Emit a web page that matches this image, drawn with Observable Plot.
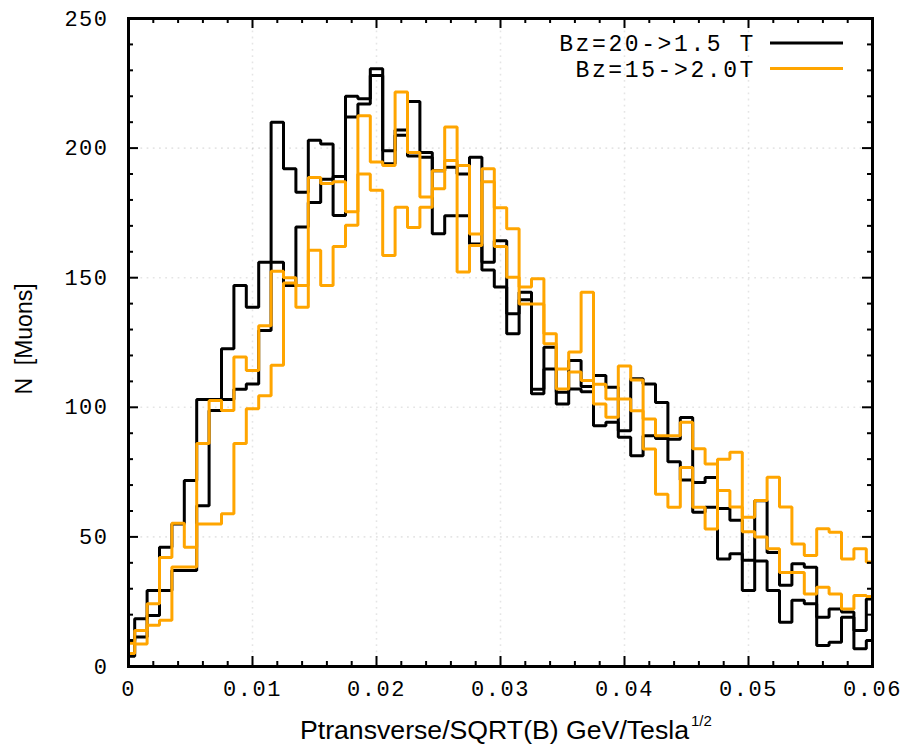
<!DOCTYPE html>
<html><head><meta charset="utf-8">
<script src="https://cdn.jsdelivr.net/npm/d3@7"></script>
<script src="https://cdn.jsdelivr.net/npm/@observablehq/plot@0.6"></script>
<style>
body{margin:0;background:#fff;}
#chart{width:917px;height:749px;}
</style></head><body><div id="chart"></div>
<script>
// ---- data (bin centres every 0.001, counts) ----
const binWidth = 0.001;
const binCenters = d3.range(61).map(k => +(k * binWidth).toFixed(4));

const blackA = [10,18.4,29.3,46,55,71.8,103,103,122.6,147,138.6,156,156,147,169.6,179,188,189,212,217,228,194,205,197,196.5,167,173.9,173.9,163,156,164.3,136.1,144.4,107,123.2,105.8,118.1,108,112.3,107.7,91,111,109,101.9,87.7,96.1,71,72.9,61,56.4,41,40.7,29.3,17.1,25.6,24.2,19,22.2,21,13.9,26];
const blackB = [4,11.4,19.7,29.3,37,37,62,98.8,103,107,109,129.6,210,192,183,203,201.6,174,220,219,230.6,199,207,218,198.3,191.3,192.6,190,196.5,153,146.4,128.4,141.5,105.2,114.8,101.3,107.1,106,92.9,94.2,88.4,81.3,89,88,79,72,59.5,61.4,41.5,43.5,29.3,63.9,44,31.3,39.6,38.3,8.1,9.4,19,6.8,10];
const orangeA = [9,13.9,24.2,42.1,55.3,46,86,102.6,98.8,119.4,114.2,131.5,152.5,150,138.6,160.6,147,162,170.2,190,183.7,158.6,177.2,169.4,177.2,184.3,195.2,152.2,162.4,187,162,150.2,139.9,139.9,124.5,107.1,113.6,110.3,101.3,96.2,103.2,98.7,83.9,66.5,61.4,76.8,61.4,53,80,82.7,57.6,64,73,61.5,47.3,42.8,53.1,51.8,41.5,45.4,40.3];
const orangeB = [5,8.7,15.9,17.8,38.4,38.4,55,55,58.9,86,99.4,104.5,116.2,148,147,188.7,186.3,187,175.4,212.5,194.6,193.3,221.6,198.3,181.1,191.3,208.1,193.3,166.9,192,177,168.9,146.4,149.6,128.4,114.8,121.3,144.4,108.9,103.2,115.9,110.5,95.5,89,89,94.2,84,78.1,67.9,61.5,52,50,45.4,36.3,36.3,28,30.6,28,22.2,27.4,27];

const xMajor = [0, 0.01, 0.02, 0.03, 0.04, 0.05, 0.06];
const xMinor = [0.002,0.004,0.006,0.008,0.012,0.014,0.016,0.018,0.022,0.024,0.026,0.028,0.032,0.034,0.036,0.038,0.042,0.044,0.046,0.048,0.052,0.054,0.056,0.058];
const yMajor = [0, 50, 100, 150, 200, 250];
const yMinor = [10,20,30,40,60,70,80,90,110,120,130,140,160,170,180,190,210,220,230,240];
const legendLabels = ["Bz=20->1.5 T", "Bz=15->2.0T"];
const colBlack = "#000000", colOrange = "#ffa500";
const xTitle = "Ptransverse/SQRT(B) GeV/Tesla", xTitleSup = "1/2";
const yTitle = "N  [Muons]";

const rows = vals => vals.map((v, i) => ({x: binCenters[i], y: v}));

// ---- layout ----
const W = 917, H = 749, mL = 128, mR = 45, mT = 18, mB = 83;
const iw = W - mL - mR, ih = H - mT - mB;

const gridStyle = {stroke: "#000", strokeWidth: 1.6, strokeDasharray: "1.8,4.4"};
const lineStyle = {x: "x", y: "y", curve: "step", strokeWidth: 3, strokeLinejoin: "miter", strokeLinecap: "butt"};

const plot = Plot.plot({
  width: W, height: H,
  marginLeft: mL, marginRight: mR, marginTop: mT, marginBottom: mB,
  x: {domain: [0, 0.06]},
  y: {domain: [0, 250]},
  style: {fontFamily: "'Liberation Mono', monospace", fontSize: "22px", color: "#000", background: "#fff"},
  marks: [
    Plot.gridX(xMajor.slice(1, -1), gridStyle),
    Plot.gridY(yMajor.slice(1, -1), gridStyle),
    Plot.line(rows(blackA), {...lineStyle, stroke: colBlack}),
    Plot.line(rows(blackB), {...lineStyle, stroke: colBlack}),
    Plot.line(rows(orangeA), {...lineStyle, stroke: colOrange}),
    Plot.line(rows(orangeB), {...lineStyle, stroke: colOrange}),
    // inward tick marks on all four sides
    Plot.ruleX(xMajor, {insetTop: ih - 10, stroke: "#000", strokeWidth: 2}),
    Plot.ruleX(xMajor, {insetBottom: ih - 10, stroke: "#000", strokeWidth: 2}),
    Plot.ruleX(xMinor, {insetTop: ih - 5, stroke: "#000", strokeWidth: 2}),
    Plot.ruleX(xMinor, {insetBottom: ih - 5, stroke: "#000", strokeWidth: 2}),
    Plot.ruleY(yMajor, {insetRight: iw - 10, stroke: "#000", strokeWidth: 2}),
    Plot.ruleY(yMajor, {insetLeft: iw - 10, stroke: "#000", strokeWidth: 2}),
    Plot.ruleY(yMinor, {insetRight: iw - 5, stroke: "#000", strokeWidth: 2}),
    Plot.ruleY(yMinor, {insetLeft: iw - 5, stroke: "#000", strokeWidth: 2}),
    Plot.axisX(xMajor, {tickSize: 0, tickPadding: 14, label: null, tickFormat: d => d === 0 ? "0" : d3.format(".2f")(d)}),
    Plot.axisY(yMajor, {tickSize: 0, tickPadding: 20, label: null, tickFormat: d3.format("d")}),
    Plot.frame({stroke: "#000", strokeWidth: 3})
  ]
});

const svg = d3.select(plot);
svg.selectAll("text").style("letter-spacing", "1.5px");

// axis titles
svg.append("text")
  .attr("x", 300).attr("y", 739)
  .attr("text-anchor", "start")
  .style("font-family", "'Liberation Sans', Arial, sans-serif")
  .style("font-size", "25px")
  .attr("textLength", 389).attr("lengthAdjust", "spacingAndGlyphs")
  .text(xTitle);
svg.append("text")
  .attr("x", 691).attr("y", 726)
  .attr("text-anchor", "start")
  .style("font-family", "'Liberation Sans', Arial, sans-serif")
  .style("font-size", "15px")
  .text(xTitleSup);

svg.append("text")
  .attr("transform", "translate(32,339) rotate(-90)")
  .attr("text-anchor", "middle")
  .style("font-family", "'Liberation Sans', Arial, sans-serif")
  .style("font-size", "23px")
  .style("white-space", "pre")
  .text(yTitle);

// legend
const legendColors = [colBlack, colOrange];
legendLabels.forEach((lab, i) => {
  const yy = 43 + i * 25.5;
  svg.append("text")
    .attr("x", 756).attr("y", yy).attr("dy", "0.35em")
    .attr("text-anchor", "end")
    .style("font-family", "'Liberation Mono', monospace")
    .style("font-size", "23px").style("letter-spacing", "2.6px")
    .text(lab);
  svg.append("line")
    .attr("x1", 770).attr("x2", 843).attr("y1", yy).attr("y2", yy)
    .attr("stroke", legendColors[i]).attr("stroke-width", 3);
});

document.getElementById("chart").appendChild(plot);
</script></body></html>
